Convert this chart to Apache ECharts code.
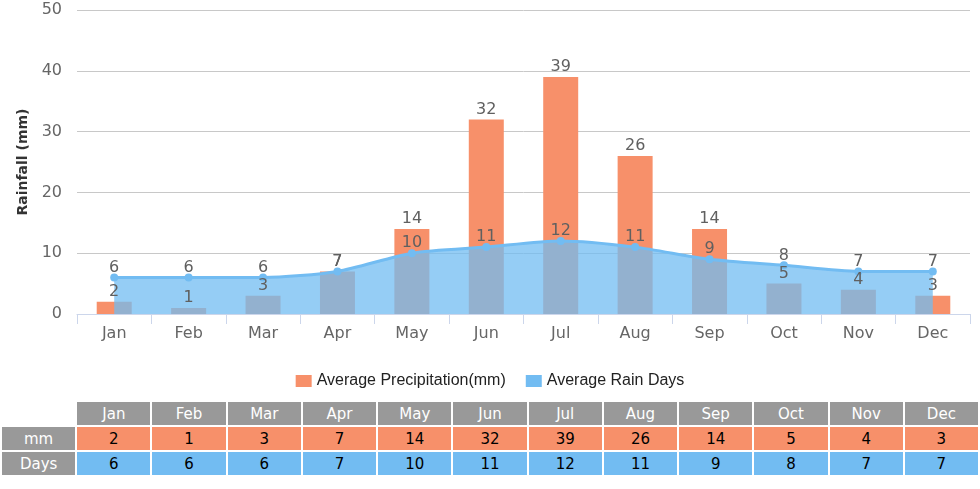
<!DOCTYPE html>
<html>
<head>
<meta charset="utf-8">
<script src="https://cdn.jsdelivr.net/npm/echarts@6/dist/echarts.min.js"></script>
<style>
  html, body { margin: 0; padding: 0; background: #fff; }
  #chart { position: absolute; left: 0; top: 0; width: 980px; height: 400px; }
  #tbl { position: absolute; left: 0; top: 400px; width: 980px; box-sizing: border-box;
         padding: 2px 2px 0 2px; display: grid; grid-template-columns: repeat(13, 1fr);
         grid-auto-rows: 23px; gap: 2px; font-family: "DejaVu Sans", Verdana, sans-serif; font-size: 15px; }
  #tbl div { display: flex; align-items: center; justify-content: center; }
  .hd { background: #999; color: #fff; }
  .mm { background: #f7906a; color: #000; }
  .dy { background: #72bcf2; color: #000; }
</style>
</head>
<body>
<div id="chart"></div>
<div id="tbl"></div>
<script>
const months = ['Jan','Feb','Mar','Apr','May','Jun','Jul','Aug','Sep','Oct','Nov','Dec'];
const precipitation = [2, 1, 3, 7, 14, 32, 39, 26, 14, 5, 4, 3];
const rainDays = [6, 6, 6, 7, 10, 11, 12, 11, 9, 8, 7, 7];
const yTicks = { min: 0, max: 50, interval: 10 };

const orange = '#f7906a';
const blue = '#72bcf2';
const labelColor = '#606060';

const chart = echarts.init(document.getElementById('chart'));
chart.setOption({
  animation: false,
  grid: { left: 77, right: 10, top: 10, bottom: 86 },
  legend: {
    top: 368, left: 'center', itemWidth: 16, itemHeight: 12, itemGap: 20,
    data: [
      { name: 'Average Precipitation(mm)', icon: 'rect', itemStyle: { color: orange } },
      { name: 'Average Rain Days', icon: 'rect', itemStyle: { color: blue } }
    ],
    textStyle: { fontFamily: 'Liberation Sans, Arial, sans-serif', fontSize: 16, color: '#222' }
  },
  xAxis: {
    type: 'category', data: months, boundaryGap: true,
    axisLine: { lineStyle: { color: '#ccd6eb' } },
    axisTick: { show: true, length: 10, lineStyle: { color: '#ccd6eb' } },
    axisLabel: { color: '#666', fontSize: 16, fontFamily: 'DejaVu Sans, sans-serif', margin: 12 }
  },
  yAxis: {
    type: 'value', min: yTicks.min, max: yTicks.max, interval: yTicks.interval,
    name: 'Rainfall (mm)', nameLocation: 'middle', nameGap: 46,
    nameTextStyle: { fontFamily: 'DejaVu Sans, sans-serif', fontWeight: 'bold', fontSize: 14, color: '#333' },
    axisLine: { show: false }, axisTick: { show: false },
    axisLabel: { color: '#666', fontSize: 16, fontFamily: 'DejaVu Sans, sans-serif', margin: 15 },
    splitLine: { lineStyle: { color: '#c8c8c8' } }
  },
  series: [
    {
      name: 'Average Precipitation(mm)', type: 'bar', data: precipitation, z: 1,
      barWidth: 35, itemStyle: { color: orange }
    },
    {
      name: 'Average Rain Days', type: 'line', data: rainDays, z: 2,
      smooth: 0.25, symbol: 'circle', symbolSize: 8,
      lineStyle: { color: blue, width: 3 },
      itemStyle: { color: blue },
      areaStyle: { color: blue, opacity: 0.75 },
      label: { show: true, position: 'top', distance: -2, color: labelColor, fontSize: 16, fontFamily: 'DejaVu Sans, sans-serif' }
    },
    {
      name: 'precipLabels', type: 'bar', data: precipitation, z: 3,
      barWidth: 35, barGap: '-100%', itemStyle: { color: 'rgba(0,0,0,0)' },
      label: { show: true, position: 'top', distance: 2, color: labelColor, fontSize: 16, fontFamily: 'DejaVu Sans, sans-serif' },
      silent: true
    }
  ]
});

// Build data table from arrays
const tbl = document.getElementById('tbl');
function cell(text, cls) {
  const d = document.createElement('div');
  if (cls) d.className = cls;
  d.textContent = text;
  tbl.appendChild(d);
}
cell('', '');
months.forEach(m => cell(m, 'hd'));
cell('mm', 'hd');
precipitation.forEach(v => cell(v, 'mm'));
cell('Days', 'hd');
rainDays.forEach(v => cell(v, 'dy'));
</script>
</body>
</html>
